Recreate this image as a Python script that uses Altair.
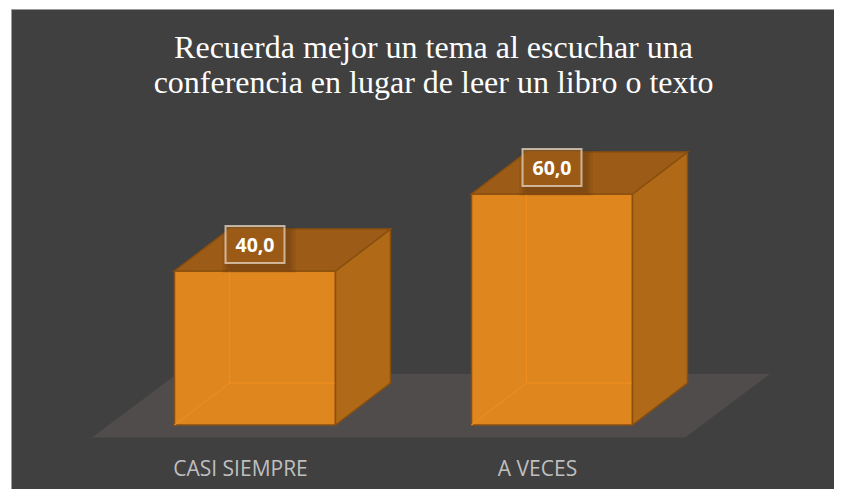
import altair as alt
import pandas as pd

# ---- data ----
categories = ["CASI SIEMPRE", "A VECES"]
values = [40.0, 60.0]
title_lines = ["Recuerda mejor un tema al escuchar una",
               "conferencia en lugar de leer un libro o texto"]

# ---- geometry of the pseudo-3D bars (in data units) ----
HALF_W = 0.271   # half width of front face (category units)
DX = 0.185       # depth offset in x (category units)
DY = 10.9        # depth offset in y (value units)

idx = list(range(len(categories)))

bars = pd.DataFrame({"cat": categories, "idx": idx, "value": values})
bars["x0"] = bars["idx"] - HALF_W
bars["x1"] = bars["idx"] + HALF_W
bars["base"] = 0.0
bars["x0d"] = bars["x0"] + DX
bars["dy"] = DY

side_rows, top_rows = [], []
for c, i, v in zip(categories, idx, values):
    side_rows.append({"cat": c, "px": i + HALF_W, "lo": 0.0, "hi": v})
    side_rows.append({"cat": c, "px": i + HALF_W + DX, "lo": DY, "hi": v + DY})
    top_rows.append({"cat": c, "py": v, "l": i - HALF_W, "r": i + HALF_W})
    top_rows.append({"cat": c, "py": v + DY, "l": i - HALF_W + DX, "r": i + HALF_W + DX})
side = pd.DataFrame(side_rows)
top = pd.DataFrame(top_rows)

floor = pd.DataFrame({"py": [-3.25, 13.25],
                      "l": [-0.549, -0.263],
                      "r": [1.448, 1.734]})

# ---- scales ----
XS = alt.Scale(domain=[-0.82155, 1.94949], nice=False, zero=False)
YS = alt.Scale(domain=[-16.623, 108.052], nice=False, zero=False)

FRONT = "#e0861f"
SIDE = "#b06a17"
TOPC = "#9c5c17"
EDGE = "#8a4f0f"

floor_layer = alt.Chart(floor).mark_area(orient="horizontal", color="#504c4b").encode(
    y=alt.Y("py:Q", scale=YS, axis=None),
    x=alt.X("l:Q", scale=XS, axis=None),
    x2="r:Q",
)

front_layer = alt.Chart(bars).mark_rect(fill=FRONT, stroke=EDGE, strokeWidth=1.5).encode(
    x=alt.X("x0:Q", scale=XS, axis=None), x2="x1:Q",
    y=alt.Y("value:Q", scale=YS, axis=None), y2="base:Q",
)

# faint hidden edges seen through the front face
hid_v = alt.Chart(bars).mark_rule(color="#ec8d1e", strokeWidth=1.2).encode(
    x=alt.X("x0d:Q", scale=XS, axis=None),
    y=alt.Y("dy:Q", scale=YS, axis=None), y2="value:Q",
)
hid_h = alt.Chart(bars).mark_rule(color="#ec8d1e", strokeWidth=1.2).encode(
    x=alt.X("x0d:Q", scale=XS, axis=None), x2="x1:Q",
    y=alt.Y("dy:Q", scale=YS, axis=None),
)
hid_d = alt.Chart(bars).mark_rule(color="#ec8d1e", strokeWidth=1.2).encode(
    x=alt.X("x0:Q", scale=XS, axis=None), x2="x0d:Q",
    y=alt.Y("base:Q", scale=YS, axis=None), y2="dy:Q",
)

side_layer = alt.Chart(side).mark_area(fill=SIDE, stroke=EDGE, strokeWidth=1.5).encode(
    x=alt.X("px:Q", scale=XS, axis=None),
    y=alt.Y("lo:Q", scale=YS, axis=None), y2="hi:Q",
    detail="cat:N",
)

top_layer = alt.Chart(top).mark_area(orient="horizontal", fill=TOPC, stroke=EDGE,
                                     strokeWidth=1.5).encode(
    y=alt.Y("py:Q", scale=YS, axis=None),
    x=alt.X("l:Q", scale=XS, axis=None), x2="r:Q",
    detail="cat:N",
)

BOX = "M-1,-0.627L1,-0.627L1,0.627L-1,0.627Z"


def shadow(size, op):
    return alt.Chart(bars).mark_point(
        shape=BOX, filled=True, fill="#2e1a06", opacity=op, size=size,
        strokeWidth=0, xOffset=4, yOffset=-21,
    ).encode(
        x=alt.X("idx:Q", scale=XS, axis=None),
        y=alt.Y("value:Q", scale=YS, axis=None),
    )


shadows = [shadow(5400, 0.08), shadow(4600, 0.09), shadow(3900, 0.10)]

box_layer = alt.Chart(bars).mark_point(
    shape=BOX, filled=True, fill="#b06a1c", fillOpacity=0.55,
    stroke="#e6d6c4", strokeOpacity=0.75, strokeWidth=2, size=3481, yOffset=-26.5,
    opacity=1,
).encode(
    x=alt.X("idx:Q", scale=XS, axis=None),
    y=alt.Y("value:Q", scale=YS, axis=None),
)

value_text = alt.Chart(bars).transform_calculate(
    label="replace(format(datum.value, '.1f'), '.', ',')"
).mark_text(font="Open Sans", fontWeight="bold", fontSize=19.5, color="white",
            baseline="middle", align="center", yOffset=-25.5).encode(
    x=alt.X("idx:Q", scale=XS, axis=None),
    y=alt.Y("value:Q", scale=YS, axis=None),
    text="label:N",
)

cat_text = alt.Chart(bars).mark_text(font="Open Sans", fontSize=21, color="#bfbfbf",
                                     baseline="alphabetic", align="center",
                                     xOffset=-14.5).encode(
    x=alt.X("idx:Q", scale=XS, axis=None),
    y=alt.value(467),
    text="cat:N",
)

title_layer = alt.Chart(alt.Data(values=[{}])).mark_text(
    text=title_lines, font="Liberation Serif", fontSize=32, color="white",
    align="center", baseline="alphabetic", lineHeight=35,
).encode(x=alt.value(422.5), y=alt.value(49.3))

chart = alt.layer(
    floor_layer, front_layer, hid_v, hid_h, hid_d, side_layer, top_layer,
    *shadows, box_layer, value_text, cat_text, title_layer,
).properties(
    width=823, height=480,
    autosize=alt.AutoSizeParams(type="none"),
    padding={"left": 3, "top": 1, "right": 0, "bottom": 0},
    background="white",
).configure_view(fill="#404040", stroke="#9a9a9a", strokeWidth=1)

chart.save("out.html", embed_options={"renderer": "svg", "actions": False})
